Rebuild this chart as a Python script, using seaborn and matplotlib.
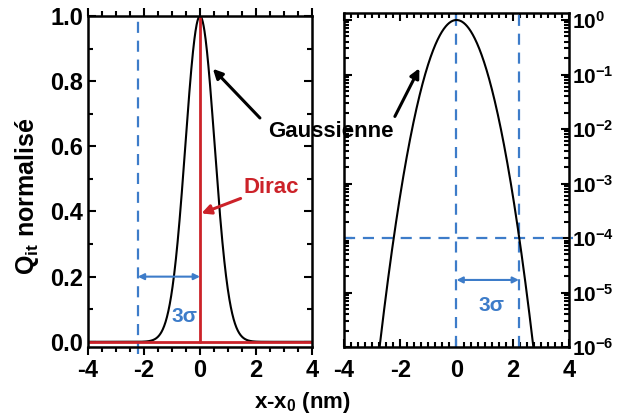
import numpy as np
import pandas as pd
import seaborn as sns
import matplotlib.pyplot as plt
from matplotlib.ticker import MultipleLocator, LogLocator, LogFormatterMathtext, NullFormatter

# ---------------- STYLE ----------------
sns.set_theme(style="ticks")
plt.rcParams["font.family"] = ["Liberation Sans", "DejaVu Sans"]
plt.rcParams["font.weight"] = "bold"
plt.rcParams["mathtext.fontset"] = "custom"
plt.rcParams["mathtext.rm"] = "Liberation Sans:bold"
plt.rcParams["mathtext.bf"] = "Liberation Sans:bold"
plt.rcParams["mathtext.it"] = "Liberation Sans:bold"
plt.rcParams["mathtext.default"] = "bf"
plt.rcParams["axes.unicode_minus"] = False
for key in ["text.color", "axes.labelcolor", "xtick.color", "ytick.color", "axes.edgecolor"]:
    plt.rcParams[key] = "black"

BLUE = "#3d7cc9"
RED = "#cc2229"

# ---------------- DATA ----------------
sigma = 0.52            # width of the gaussian
x_lim = (-4, 4)
three_sigma = 2.22      # half-width marked "3σ"
cut_level = 1e-4        # dashed horizontal threshold on log panel
dirac_x = [0, 0]
dirac_y = [0, 1]
base_x = [-4, 4]
base_y = [0, 0]

x = np.linspace(-4, 4, 801)
gauss = pd.DataFrame({"x": x, "q": np.exp(-x**2 / (2 * sigma**2))})

# ---------------- FIGURE ----------------
fig = plt.figure(figsize=(6.17, 4.19), dpi=100)
ax1 = fig.add_axes([0.1426, 0.1718, 0.3631, 0.7900])
ax2 = fig.add_axes([0.5575, 0.1718, 0.3647, 0.7970])

# left panel: linear
ax1.axvline(-three_sigma, color=BLUE, lw=1.6, dashes=(5, 3.5), ymin=-0.02, clip_on=False)
sns.lineplot(data=gauss, x="x", y="q", ax=ax1, color="black", lw=1.5)
ax1.plot(base_x, base_y, color=RED, lw=2)
ax1.plot(dirac_x, dirac_y, color=RED, lw=2)
ax1.annotate("", xy=(-three_sigma, 0.2), xytext=(0, 0.2),
             arrowprops=dict(arrowstyle="<|-|>", color=BLUE, lw=1.5, mutation_scale=9,
                             shrinkA=0, shrinkB=0))
ax1.text(-0.55, 0.077, "3σ", color=BLUE, fontsize=15, ha="center", va="center", weight="bold")
ax1.text(2.55, 0.475, "Dirac", color=RED, fontsize=16, ha="center", va="center", weight="bold")
ax1.annotate("", xy=(0.05, 0.394), xytext=(1.45, 0.44),
             arrowprops=dict(arrowstyle="-|>", color=RED, lw=2.2, mutation_scale=14,
                             shrinkA=0, shrinkB=0))
ax1.annotate("", xy=(0.46, 0.838), xytext=(2.14, 0.687),
             arrowprops=dict(arrowstyle="-|>", color="black", lw=2.2, mutation_scale=14,
                             shrinkA=0, shrinkB=0))

ax1.set_xlim(*x_lim)
ax1.set_ylim(-0.016, 1.0)
ax1.xaxis.set_major_locator(MultipleLocator(2))
ax1.xaxis.set_minor_locator(MultipleLocator(0.5))
ax1.yaxis.set_major_locator(MultipleLocator(0.2))
ax1.yaxis.set_minor_locator(MultipleLocator(0.1))
ax1.yaxis.set_major_formatter(plt.FuncFormatter(lambda v, p: f"{v:.1f}"))
ax1.tick_params(which="both", direction="in", top=True, right=True, width=1.5)
ax1.tick_params(axis="x", which="both", direction="out", pad=2.5)
ax1.tick_params(which="major", length=6, labelsize=17)
ax1.tick_params(which="minor", length=3.5)
ax1.set_xlabel("")
ax1.set_ylabel("")

# right panel: log
ax2.axvline(0, color=BLUE, lw=1.6, dashes=(5, 3.5))
ax2.axvline(three_sigma, color=BLUE, lw=1.6, dashes=(5, 3.5))
ax2.plot([-4, 4.15], [cut_level, cut_level], color=BLUE, lw=1.6, dashes=(5, 3.5), clip_on=False)
sns.lineplot(data=gauss, x="x", y="q", ax=ax2, color="black", lw=1.5)
ax2.annotate("", xy=(0, 1.7e-5), xytext=(three_sigma, 1.7e-5),
             arrowprops=dict(arrowstyle="<|-|>", color=BLUE, lw=1.5, mutation_scale=9,
                             shrinkA=0, shrinkB=0))
ax2.text(1.25, 5.8e-6, "3σ", color=BLUE, fontsize=15, ha="center", va="center", weight="bold")
ax2.annotate("", xy=(-1.32, 0.13), xytext=(-2.19, 0.017),
             arrowprops=dict(arrowstyle="-|>", color="black", lw=2.2, mutation_scale=14,
                             shrinkA=0, shrinkB=0))

ax2.set_yscale("log")
ax2.set_xlim(*x_lim)
ax2.set_ylim(1e-6, 1.34)
ax2.xaxis.set_major_locator(MultipleLocator(2))
ax2.xaxis.set_minor_locator(MultipleLocator(0.25))
ax2.yaxis.set_major_locator(LogLocator(base=10, numticks=10))
ax2.yaxis.set_minor_locator(LogLocator(base=10, subs=np.arange(2, 10), numticks=10))
ax2.yaxis.set_major_formatter(LogFormatterMathtext())
ax2.yaxis.set_minor_formatter(NullFormatter())
ax2.tick_params(which="both", direction="in", top=True, right=True, left=True,
                labelleft=False, labelright=True, width=1.5)
ax2.tick_params(which="major", length=6, labelsize=17)
ax2.tick_params(axis="x", which="major", pad=8.5)
ax2.tick_params(axis="y", which="major", labelsize=15, pad=2)
ax2.tick_params(which="minor", length=3.5)
ax2.set_xlabel("")
ax2.set_ylabel("")

for ax in (ax1, ax2):
    for s in ax.spines.values():
        s.set_linewidth(1.8)
        s.set_visible(True)
    for lab in ax.get_xticklabels() + ax.get_yticklabels():
        lab.set_fontweight("bold")

fig.text(0.537, 0.685, "Gaussienne", fontsize=16, ha="center", va="center", weight="bold")
fig.text(0.49, 0.04, r"x-x$_0$ (nm)", fontsize=16, ha="center", va="center", weight="bold")
fig.text(0.043, 0.532, r"Q$_{it}$ normalisé", fontsize=18, ha="center", va="center",
         rotation=90, weight="bold")

fig.savefig("out.png", dpi=100)
